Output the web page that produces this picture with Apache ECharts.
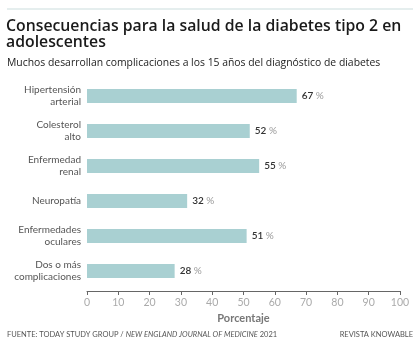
<!DOCTYPE html>
<html><head><meta charset="utf-8">
<script src="https://cdn.jsdelivr.net/npm/echarts@6/dist/echarts.min.js"></script>
<style>html,body{margin:0;padding:0;background:#fff}#c{width:420px;height:354px}</style>
</head><body><div id="c"></div>
<script>
const categories = ['Hipertensión\narterial','Colesterol\nalto','Enfermedad\nrenal','Neuropatía','Enfermedades\noculares','Dos o más\ncomplicaciones'];
const values = [67, 52, 55, 32, 51, 28];
const xTicks = [0,10,20,30,40,50,60,70,80,90,100];
const FONT = 'Lato, sans-serif';
const TFONT = '"Open Sans", sans-serif';
const chart = echarts.init(document.getElementById('c'));
chart.setOption({
  animation: false,
  backgroundColor: '#fff',
  graphic: [
    {type:'line', shape:{x1:7,y1:9,x2:413,y2:9}, style:{stroke:'#dde8e8', lineWidth:1.5}}
  ],
  title: [
    {text:'Consecuencias para la salud de la diabetes tipo 2 en\nadolescentes', left:6, top:18, padding:0,
     textStyle:{fontFamily:TFONT, fontSize:15.8, fontWeight:600, color:'#1a1a1a', lineHeight:16}},
    {text:'Muchos desarrollan complicaciones a los 15 años del diagnóstico de diabetes', left:7, top:58, padding:0,
     textStyle:{fontFamily:TFONT, fontSize:10.4, fontWeight:400, color:'#222'}},
    {text:'{a|FUENTE: TODAY STUDY GROUP / }{b|NEW ENGLAND JOURNAL OF MEDICINE}{a| 2021}', left:7, top:331, padding:0,
     textStyle:{fontWeight:'normal', rich:{a:{fontFamily:FONT,fontSize:7.5,fontWeight:'normal',color:'#555'}, b:{fontFamily:FONT,fontSize:7.5,fontWeight:'normal',color:'#555',fontStyle:'italic'}}}},
    {text:'REVISTA KNOWABLE', right:7, top:331, padding:0, textStyle:{fontFamily:FONT,fontSize:7.5,fontWeight:'normal',color:'#555'}}
  ],
  grid: {left:87, right:20, top:78.5, height:210, containLabel:false},
  xAxis: {
    type:'value', min:0, max:100, interval:10, offset:2.5,
    name:'Porcentaje', nameLocation:'middle', nameGap:22,
    nameTextStyle:{fontFamily:FONT, fontSize:11, fontWeight:700, color:'#777'},
    axisLine:{show:true, lineStyle:{color:'#666', width:1}},
    axisTick:{show:true, inside:false, length:4, lineStyle:{color:'#666'}},
    axisLabel:{fontFamily:FONT, fontSize:10.5, color:'#aaa', margin:6, formatter:v=>xTicks.includes(v)?String(v):''},
    splitLine:{show:false}
  },
  yAxis: {
    type:'category', data:categories, inverse:true,
    axisLine:{show:false}, axisTick:{show:false},
    axisLabel:{fontFamily:FONT, fontSize:10, color:'#555', margin:6, lineHeight:12, align:'right'}
  },
  series: [{
    type:'bar', data:values, barWidth:14,
    itemStyle:{color:'#a9d0d2'},
    label:{show:true, position:'right', distance:5,
      formatter:p=>'{n|'+p.value+'}{p| %}',
      rich:{n:{fontFamily:FONT,fontSize:10,fontWeight:600,color:'#333'}, p:{fontFamily:FONT,fontSize:10,color:'#999'}}}
  }]
});
</script></body></html>
